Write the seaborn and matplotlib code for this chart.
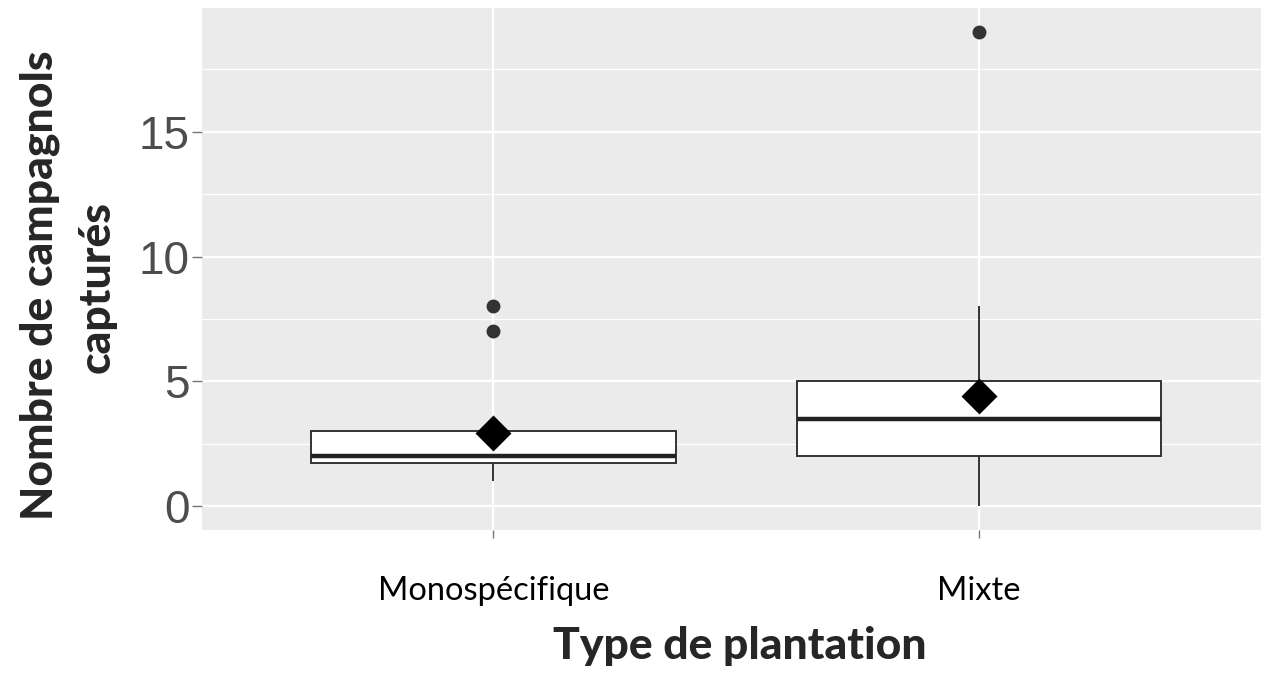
import numpy as np
import pandas as pd
import matplotlib
matplotlib.use("Agg")
import matplotlib.pyplot as plt
import seaborn as sns

# Captures per plot, by plantation type
categories = ["Monospécifique", "Mixte"]
captures_mono = [1, 1, 1, 2, 2, 2, 2, 3, 3, 3, 7, 8]
captures_mixte = [0, 1, 2, 2, 2, 2, 3, 4, 4, 5, 5, 5, 8, 19]
y_ticks = [0, 5, 10, 15]

df = pd.DataFrame({
    "type": [categories[0]] * len(captures_mono) + [categories[1]] * len(captures_mixte),
    "captures": captures_mono + captures_mixte,
})

sns.set_theme(style="darkgrid")
plt.rcParams["font.family"] = ["Liberation Sans", "DejaVu Sans"]

W, H = 1261, 674
fig = plt.figure(figsize=(W / 100, H / 100), dpi=100)
ax = fig.add_axes([202 / W, 1 - 530 / H, 1 - 202 / W, (530 - 8) / H])
ax.set_facecolor("#EBEBEB")

sns.boxplot(
    data=df, x="type", y="captures", order=categories, ax=ax,
    width=0.75, color="white", linecolor="#333333", linewidth=1.4,
    showcaps=False,
    medianprops=dict(color="#222222", linewidth=3.2),
    flierprops=dict(marker="o", markerfacecolor="#333333",
                    markeredgecolor="#333333", markersize=9),
    zorder=2,
)

sns.pointplot(
    data=df, x="type", y="captures", order=categories, ax=ax,
    estimator="mean", errorbar=None, markers="D", linestyles="none",
    color="black", markersize=16, zorder=5,
)

ax.set_xlim(-0.6, 1.58)
ax.set_ylim(-0.95, 19.95)
ax.set_yticks(y_ticks)
ax.set_yticks([2.5, 7.5, 12.5, 17.5], minor=True)
ax.grid(which="major", color="white", linewidth=1.6)
ax.grid(which="minor", axis="y", color="white", linewidth=0.8)
ax.set_axisbelow(True)
for s in ax.spines.values():
    s.set_visible(False)

ax.tick_params(axis="y", which="major", length=7, width=1, color="#777777",
               labelsize=33, labelcolor="#4D4D4D", pad=2, left=True)
ax.tick_params(axis="y", which="minor", length=0)
ax.tick_params(axis="x", length=6, width=1, color="#777777", bottom=True,
               labelsize=23.5, labelcolor="black", pad=27)
for lab in ax.get_xticklabels():
    lab.set_family(["Lato", "DejaVu Sans"])

ax.set_xlabel("")
ax.set_ylabel("")

title_font = dict(fontsize=32, fontweight=900, family=["Lato", "DejaVu Sans"])
fig.text(740 / W, 1 - 646 / H, "Type de plantation", ha="center",
         va="center", **title_font)
# two-line y-axis title, one text per line
fig.text(40 / W, 1 - 285 / H, "Nombre de campagnols", ha="center",
         va="center", rotation=90, **title_font)
fig.text(97 / W, 1 - 287 / H, "capturés", ha="center",
         va="center", rotation=90, **title_font)

fig.savefig("out.png", dpi=100)
